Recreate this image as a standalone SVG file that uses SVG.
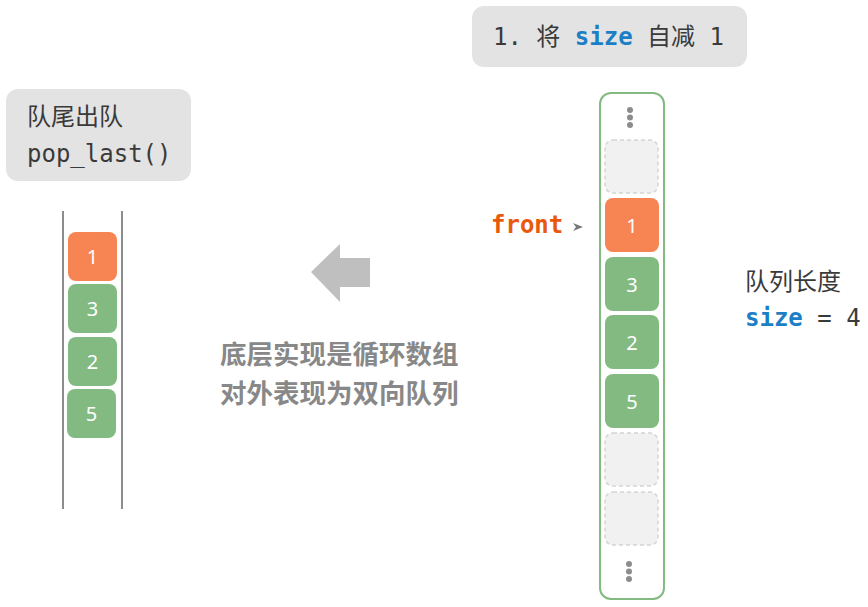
<svg xmlns="http://www.w3.org/2000/svg" width="868" height="607" viewBox="0 0 868 607">
<style>
.mono{font-family:"DejaVu Sans Mono","Liberation Mono","Noto Sans CJK SC",monospace;font-size:24px;fill:#3a3a3a}
.cjk{font-family:"Noto Sans CJK SC","Noto Sans",sans-serif;font-size:24px;fill:#3a3a3a}
.kw{font-weight:bold;fill:#1c7fc6}
.num{font-family:"Noto Sans","Open Sans",sans-serif;font-size:20px;fill:#fff;text-anchor:middle;dominant-baseline:central}
.orange{fill:#f78453}
.green{fill:#83ba82}
.empty{fill:#f1f1f1;stroke:#d4d4d4;stroke-width:1.5;stroke-dasharray:4 3}
.dot{fill:#8c8c8c}
.bubble{fill:#e3e3e3}
.wall{stroke:#666;stroke-width:1.5}
</style>
<rect width="868" height="607" fill="#fff"/>

<g id="step-label">
<rect class="bubble" x="472" y="6" width="275" height="61" rx="12"/>
<text class="mono" x="493" y="45" xml:space="preserve">1. <tspan class="cjk">将</tspan> <tspan class="kw">size</tspan> <tspan class="cjk">自减</tspan> 1</text>
</g>

<g id="op-label">
<rect class="bubble" x="6" y="89" width="185" height="92" rx="12"/>
<text class="cjk" x="27" y="125">队尾出队</text>
<text class="mono" x="27" y="162">pop_last()</text>
</g>

<g id="deque">
<line class="wall" x1="63" y1="211" x2="63" y2="509"/>
<line class="wall" x1="122" y1="211" x2="122" y2="509"/>
<g id="d1"><rect class="orange" x="68" y="232" width="49" height="49" rx="8"/><text class="num" x="92.5" y="256.5">1</text></g>
<g id="d3"><rect class="green" x="68" y="284" width="49" height="49" rx="8"/><text class="num" x="92.5" y="308.5">3</text></g>
<g id="d2"><rect class="green" x="68" y="337" width="49" height="49" rx="8"/><text class="num" x="92.5" y="361.5">2</text></g>
<g id="d5"><rect class="green" x="67" y="389" width="49" height="49" rx="8"/><text class="num" x="91.5" y="413.5">5</text></g>
</g>

<g id="big-arrow">
<polygon points="311,272 340,244 340,258 370,258 370,287 340,287 340,302" fill="#bfbfbf"/>
</g>

<g id="note">
<text x="220" y="364" font-family="Noto Sans CJK SC,sans-serif" font-size="26.5" font-weight="bold" fill="#888">底层实现是循环数组</text>
<text x="220" y="403" font-family="Noto Sans CJK SC,sans-serif" font-size="26.5" font-weight="bold" fill="#888">对外表现为双向队列</text>
</g>

<g id="array">
<rect x="600" y="93" width="64" height="506" rx="11" fill="#fff" stroke="#83ba82" stroke-width="2"/>
<circle class="dot" cx="630" cy="110" r="3"/><circle class="dot" cx="630" cy="117.5" r="3"/><circle class="dot" cx="630" cy="125" r="3"/>
<rect class="empty" x="605" y="140" width="53" height="53" rx="8"/>
<g id="a1"><rect class="orange" x="605" y="198" width="54" height="54" rx="8"/><text class="num" x="632" y="225">1</text></g>
<g id="a3"><rect class="green" x="605" y="257" width="54" height="54" rx="8"/><text class="num" x="632" y="284">3</text></g>
<g id="a2"><rect class="green" x="605" y="315" width="54" height="54" rx="8"/><text class="num" x="632" y="342">2</text></g>
<g id="a5"><rect class="green" x="605" y="374" width="54" height="54" rx="8"/><text class="num" x="632" y="401">5</text></g>
<rect class="empty" x="605" y="433" width="53" height="53" rx="8"/>
<rect class="empty" x="605" y="492" width="53" height="53" rx="8"/>
<circle class="dot" cx="629" cy="564" r="3"/><circle class="dot" cx="629" cy="571.5" r="3"/><circle class="dot" cx="629" cy="579" r="3"/>
</g>

<g id="front-pointer">
<text x="491" y="233" font-family="DejaVu Sans Mono,monospace" font-size="24" font-weight="bold" fill="#e8590c">front</text>
</g>

<g id="connectors">
<path d="M573,223 L583,227 L573,231 L576,227 Z" fill="#777"/>
</g>

<g id="size-info">
<text class="cjk" x="745" y="290">队列长度</text>
<text class="mono" x="745" y="326" xml:space="preserve"><tspan class="kw">size</tspan> = 4</text>
</g>
</svg>
